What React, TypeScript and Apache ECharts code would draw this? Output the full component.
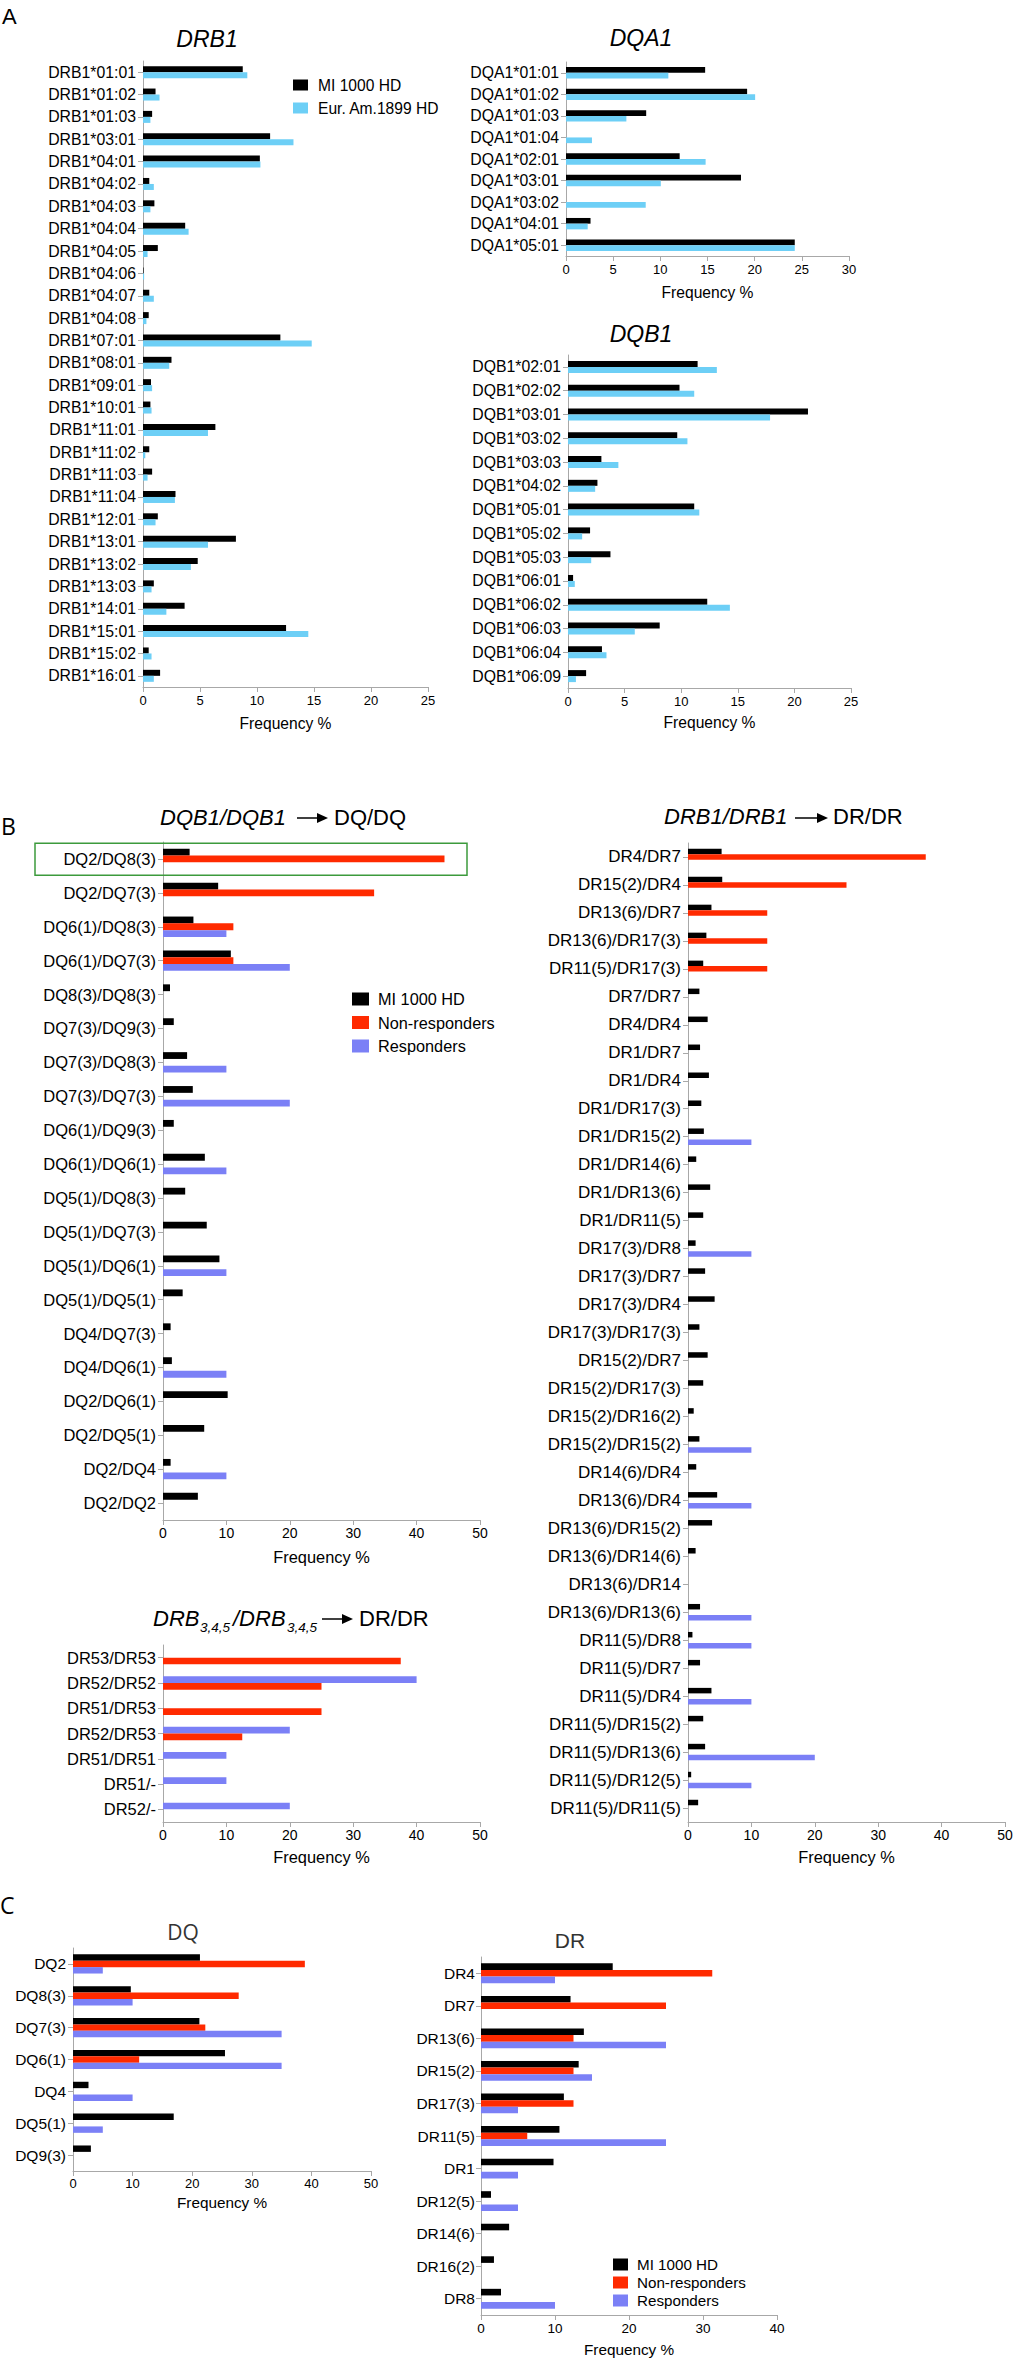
import React, { useEffect, useRef } from "react";
import * as echarts from "echarts";

const FONT = '"Liberation Sans", Arial, Helvetica, sans-serif';
const FONT2 = '"Open Sans", "Liberation Sans", Arial, sans-serif';

const MI = "MI 1000 HD";
const EUR = "Eur. Am.1899 HD";
const NONR = "Non-responders";
const RESP = "Responders";

const C_MI = "#000000";
const C_EUR = "#6dcff6";
const C_NONR = "#ff2a00";
const C_RESP = "#7b80f6";
const C_AXIS = "#a8a8a8";
const C_BOX = "#3c9a3c";

// ---------------- Panel A ----------------
const drb1Alleles = [
  "DRB1*01:01", "DRB1*01:02", "DRB1*01:03", "DRB1*03:01", "DRB1*04:01", "DRB1*04:02", "DRB1*04:03",
  "DRB1*04:04", "DRB1*04:05", "DRB1*04:06", "DRB1*04:07", "DRB1*04:08", "DRB1*07:01", "DRB1*08:01",
  "DRB1*09:01", "DRB1*10:01", "DRB1*11:01", "DRB1*11:02", "DRB1*11:03", "DRB1*11:04", "DRB1*12:01",
  "DRB1*13:01", "DRB1*13:02", "DRB1*13:03", "DRB1*14:01", "DRB1*15:01", "DRB1*15:02", "DRB1*16:01",
];
const drb1MI = [8.75, 1.1, 0.8, 11.15, 10.25, 0.55, 1.0, 3.7, 1.3, 0.05, 0.55, 0.5, 12.05, 2.5, 0.7, 0.65, 6.35, 0.55, 0.8, 2.85, 1.3, 8.15, 4.8, 0.95, 3.65, 12.55, 0.5, 1.5];
const drb1Eur = [9.15, 1.45, 0.65, 13.2, 10.3, 0.95, 0.65, 4.0, 0.4, 0.1, 0.95, 0.3, 14.8, 2.3, 0.8, 0.75, 5.7, 0.2, 0.4, 2.8, 1.1, 5.7, 4.2, 0.75, 2.05, 14.5, 0.75, 0.95];

const dqa1Alleles = ["DQA1*01:01", "DQA1*01:02", "DQA1*01:03", "DQA1*01:04", "DQA1*02:01", "DQA1*03:01", "DQA1*03:02", "DQA1*04:01", "DQA1*05:01"];
const dqa1MI = [14.75, 19.2, 8.5, 0, 12.05, 18.55, 0, 2.6, 24.25];
const dqa1Eur = [10.85, 20.05, 6.4, 2.75, 14.8, 10.05, 8.45, 2.3, 24.25];

const dqb1Alleles = [
  "DQB1*02:01", "DQB1*02:02", "DQB1*03:01", "DQB1*03:02", "DQB1*03:03", "DQB1*04:02", "DQB1*05:01",
  "DQB1*05:02", "DQB1*05:03", "DQB1*06:01", "DQB1*06:02", "DQB1*06:03", "DQB1*06:04", "DQB1*06:09",
];
const dqb1MI = [11.45, 9.85, 21.2, 9.65, 2.95, 2.6, 11.15, 1.95, 3.75, 0.45, 12.3, 8.1, 3.0, 1.6];
const dqb1Eur = [13.15, 11.15, 17.85, 10.55, 4.45, 2.4, 11.6, 1.25, 2.05, 0.6, 14.3, 5.9, 3.4, 0.7];

// ---------------- Panel B ----------------
const dqPairs = [
  "DQ2/DQ8(3)", "DQ2/DQ7(3)", "DQ6(1)/DQ8(3)", "DQ6(1)/DQ7(3)", "DQ8(3)/DQ8(3)", "DQ7(3)/DQ9(3)",
  "DQ7(3)/DQ8(3)", "DQ7(3)/DQ7(3)", "DQ6(1)/DQ9(3)", "DQ6(1)/DQ6(1)", "DQ5(1)/DQ8(3)", "DQ5(1)/DQ7(3)",
  "DQ5(1)/DQ6(1)", "DQ5(1)/DQ5(1)", "DQ4/DQ7(3)", "DQ4/DQ6(1)", "DQ2/DQ6(1)", "DQ2/DQ5(1)", "DQ2/DQ4", "DQ2/DQ2",
];
const dqPairsMI = [4.2, 8.7, 4.8, 10.7, 1.1, 1.7, 3.8, 4.7, 1.7, 6.6, 3.5, 6.9, 8.9, 3.1, 1.2, 1.4, 10.2, 6.5, 1.2, 5.5];
const dqPairsNonResp = [44.4, 33.3, 11.1, 11.1, 0, 0, 0, 0, 0, 0, 0, 0, 0, 0, 0, 0, 0, 0, 0, 0];
const dqPairsResp = [0, 0, 10, 20, 0, 0, 10, 20, 0, 10, 0, 0, 10, 0, 0, 10, 0, 0, 10, 0];

const drb345Pairs = ["DR53/DR53", "DR52/DR52", "DR51/DR53", "DR52/DR53", "DR51/DR51", "DR51/-", "DR52/-"];
const drb345Resp = [0, 40, 0, 20, 10, 10, 20];
const drb345NonResp = [37.5, 25, 25, 12.5, 0, 0, 0];

const drPairs = [
  "DR4/DR7", "DR15(2)/DR4", "DR13(6)/DR7", "DR13(6)/DR17(3)", "DR11(5)/DR17(3)", "DR7/DR7", "DR4/DR4",
  "DR1/DR7", "DR1/DR4", "DR1/DR17(3)", "DR1/DR15(2)", "DR1/DR14(6)", "DR1/DR13(6)", "DR1/DR11(5)",
  "DR17(3)/DR8", "DR17(3)/DR7", "DR17(3)/DR4", "DR17(3)/DR17(3)", "DR15(2)/DR7", "DR15(2)/DR17(3)",
  "DR15(2)/DR16(2)", "DR15(2)/DR15(2)", "DR14(6)/DR4", "DR13(6)/DR4", "DR13(6)/DR15(2)", "DR13(6)/DR14(6)",
  "DR13(6)/DR14", "DR13(6)/DR13(6)", "DR11(5)/DR8", "DR11(5)/DR7", "DR11(5)/DR4", "DR11(5)/DR15(2)",
  "DR11(5)/DR13(6)", "DR11(5)/DR12(5)", "DR11(5)/DR11(5)",
];
const drPairsMI = [5.3, 5.4, 3.7, 2.9, 2.4, 1.8, 3.1, 1.9, 3.3, 2.1, 2.5, 1.3, 3.5, 2.4, 1.2, 2.7, 4.2, 1.8, 3.1, 2.4, 0.9, 1.8, 1.3, 4.6, 3.8, 1.2, 0, 1.9, 0.7, 1.9, 3.7, 2.4, 2.7, 0.5, 1.6];
const drPairsNonResp = [37.5, 25, 12.5, 12.5, 12.5, 0, 0, 0, 0, 0, 0, 0, 0, 0, 0, 0, 0, 0, 0, 0, 0, 0, 0, 0, 0, 0, 0, 0, 0, 0, 0, 0, 0, 0, 0];
const drPairsResp = [0, 0, 0, 0, 0, 0, 0, 0, 0, 0, 10, 0, 0, 0, 10, 0, 0, 0, 0, 0, 0, 10, 0, 10, 0, 0, 0, 10, 10, 0, 10, 0, 20, 10, 0];

// ---------------- Panel C ----------------
const dqGroups = ["DQ2", "DQ8(3)", "DQ7(3)", "DQ6(1)", "DQ4", "DQ5(1)", "DQ9(3)"];
const dqMI = [21.3, 9.7, 21.2, 25.5, 2.6, 16.9, 3.0];
const dqNonResp = [38.9, 27.8, 22.2, 11.1, 0, 0, 0];
const dqResp = [5, 10, 35, 35, 10, 5, 0];

const drGroups = ["DR4", "DR7", "DR13(6)", "DR15(2)", "DR17(3)", "DR11(5)", "DR1", "DR12(5)", "DR14(6)", "DR16(2)", "DR8"];
const drMI = [17.8, 12.1, 13.9, 13.2, 11.2, 10.6, 9.8, 1.35, 3.8, 1.75, 2.7];
const drNonResp = [31.25, 25, 12.5, 12.5, 12.5, 6.25, 0, 0, 0, 0, 0];
const drResp = [10, 0, 25, 15, 5, 25, 5, 5, 0, 0, 10];

// ---------------- layout ----------------
type Panel = {
  left: number; top: number; width: number; height: number;
  cats: string[]; max: number; interval: number;
  catSize: number; catMargin: number; tickSize: number; tickMargin: number;
  nameSize: number; nameGap: number; bar: number;
  series: { name: string; data: number[]; color: string }[];
};

const panels: Panel[] = [
  { left: 143, top: 61, width: 285, height: 626, cats: drb1Alleles, max: 25, interval: 5, catSize: 15.8, catMargin: 7, tickSize: 13, tickMargin: 7, nameSize: 15.6, nameGap: 28, bar: 6,
    series: [{ name: MI, data: drb1MI, color: C_MI }, { name: EUR, data: drb1Eur, color: C_EUR }] },
  { left: 566, top: 62, width: 283, height: 194, cats: dqa1Alleles, max: 30, interval: 5, catSize: 15.8, catMargin: 7, tickSize: 13, tickMargin: 7, nameSize: 15.6, nameGap: 28, bar: 5.7,
    series: [{ name: MI, data: dqa1MI, color: C_MI }, { name: EUR, data: dqa1Eur, color: C_EUR }] },
  { left: 568, top: 355, width: 283, height: 333, cats: dqb1Alleles, max: 25, interval: 5, catSize: 15.8, catMargin: 7, tickSize: 13, tickMargin: 7, nameSize: 15.6, nameGap: 26, bar: 6,
    series: [{ name: MI, data: dqb1MI, color: C_MI }, { name: EUR, data: dqb1Eur, color: C_EUR }] },
  { left: 163, top: 842, width: 317, height: 678, cats: dqPairs, max: 50, interval: 10, catSize: 16.5, catMargin: 7, tickSize: 14, tickMargin: 6, nameSize: 16.4, nameGap: 29, bar: 6.8,
    series: [{ name: MI, data: dqPairsMI, color: C_MI }, { name: NONR, data: dqPairsNonResp, color: C_NONR }, { name: RESP, data: dqPairsResp, color: C_RESP }] },
  { left: 163, top: 1645, width: 317, height: 177, cats: drb345Pairs, max: 50, interval: 10, catSize: 16.5, catMargin: 7, tickSize: 14, tickMargin: 6, nameSize: 16.4, nameGap: 27, bar: 6.7,
    series: [{ name: RESP, data: drb345Resp, color: C_RESP }, { name: NONR, data: drb345NonResp, color: C_NONR }] },
  { left: 688, top: 843, width: 317, height: 979, cats: drPairs, max: 50, interval: 10, catSize: 17, catMargin: 7, tickSize: 14, tickMargin: 6, nameSize: 16.4, nameGap: 27, bar: 5.5,
    series: [{ name: MI, data: drPairsMI, color: C_MI }, { name: NONR, data: drPairsNonResp, color: C_NONR }, { name: RESP, data: drPairsResp, color: C_RESP }] },
  { left: 73, top: 1948, width: 298, height: 223, cats: dqGroups, max: 50, interval: 10, catSize: 15.5, catMargin: 7, tickSize: 13, tickMargin: 5.5, nameSize: 15.3, nameGap: 24, bar: 6.4,
    series: [{ name: MI, data: dqMI, color: C_MI }, { name: NONR, data: dqNonResp, color: C_NONR }, { name: RESP, data: dqResp, color: C_RESP }] },
  { left: 481, top: 1957, width: 296, height: 358, cats: drGroups, max: 40, interval: 10, catSize: 15.5, catMargin: 6, tickSize: 13.5, tickMargin: 6, nameSize: 15.3, nameGap: 27, bar: 6.6,
    series: [{ name: MI, data: drMI, color: C_MI }, { name: NONR, data: drNonResp, color: C_NONR }, { name: RESP, data: drResp, color: C_RESP }] },
];

function text(t: string, x: number, y: number, font: string, align = "left", fill = "#000") {
  return {
    type: "text", x, y, silent: true, z: 100,
    style: { text: t, font, fill, textAlign: align, align, textVerticalAlign: "middle", verticalAlign: "middle" },
  };
}

function arrow(x1: number, x2: number, y: number) {
  return [
    { type: "line", silent: true, z: 100, shape: { x1, y1: y, x2: x2 - 10, y2: y }, style: { stroke: "#000", lineWidth: 1.5 } },
    { type: "polygon", silent: true, z: 100, shape: { points: [[x2 - 11, y - 5], [x2, y], [x2 - 11, y + 5]] }, style: { fill: "#000" } },
  ];
}

function buildOption() {
  const grid: any[] = [];
  const xAxis: any[] = [];
  const yAxis: any[] = [];
  const series: any[] = [];
  panels.forEach((p, i) => {
    grid.push({ left: p.left, top: p.top, width: p.width, height: p.height, containLabel: false, outerBoundsMode: "none" });
    xAxis.push({
      type: "value", gridIndex: i, min: 0, max: p.max, interval: p.interval,
      axisLine: { show: true, lineStyle: { color: C_AXIS, width: 1 } },
      axisTick: { show: true, length: 5, lineStyle: { color: C_AXIS } },
      splitLine: { show: false },
      axisLabel: { fontSize: p.tickSize, color: "#000", fontFamily: FONT, margin: p.tickMargin },
      name: "Frequency %", nameLocation: "middle", nameGap: p.nameGap,
      nameTextStyle: { fontSize: p.nameSize, color: "#000", fontFamily: FONT },
    });
    yAxis.push({
      type: "category", gridIndex: i, data: p.cats, inverse: true,
      axisLine: { show: true, lineStyle: { color: C_AXIS, width: 1 } },
      axisTick: { show: true, alignWithLabel: true, length: 5, lineStyle: { color: C_AXIS } },
      splitLine: { show: false },
      axisLabel: { interval: 0, hideOverlap: false, fontSize: p.catSize, color: "#000", fontFamily: FONT, margin: p.catMargin },
    });
    p.series.forEach((s) => {
      series.push({
        type: "bar", name: s.name, xAxisIndex: i, yAxisIndex: i, data: s.data,
        barWidth: p.bar, barGap: "0%", itemStyle: { color: s.color }, silent: true,
      });
    });
  });

  const legendBase = { orient: "vertical", icon: "rect", selectedMode: false, padding: 0 };
  const legend = [
    { ...legendBase, data: [MI, EUR], left: 293, top: 77, itemWidth: 15, itemHeight: 11, itemGap: 7,
      textStyle: { fontSize: 15.6, lineHeight: 16, color: "#000", fontFamily: FONT, padding: [0, 0, 0, 5] } },
    { ...legendBase, data: [MI, NONR, RESP], left: 352, top: 991, itemWidth: 17, itemHeight: 13, itemGap: 7.5,
      textStyle: { fontSize: 16.3, lineHeight: 16, color: "#000", fontFamily: FONT, padding: [0, 0, 0, 4] } },
    { ...legendBase, data: [MI, NONR, RESP], left: 613, top: 2257, itemWidth: 15, itemHeight: 12, itemGap: 3,
      textStyle: { fontSize: 15.2, lineHeight: 14, color: "#000", fontFamily: FONT, padding: [0, 0, 0, 4] } },
  ];

  const it22 = `italic 22px ${FONT}`;
  const n22 = `22px ${FONT}`;
  const sub = `italic 13.5px ${FONT}`;
  const graphic: any[] = [
    text("A", 2, 16, `22px ${FONT}`),
    text("B", 1, 826, `23px ${FONT2}`),
    text("C", 0, 1905, `23px ${FONT2}`),
    text("DRB1", 207, 38.5, `italic 23px ${FONT}`, "center"),
    text("DQA1", 641, 38, `italic 23px ${FONT}`, "center"),
    text("DQB1", 641, 333.5, `italic 23px ${FONT}`, "center"),
    // B: DQB1/DQB1 -> DQ/DQ
    text("DQB1/DQB1", 160, 817, it22),
    ...arrow(297, 328, 818),
    text("DQ/DQ", 334, 817, n22),
    // B: DRB1/DRB1 -> DR/DR
    text("DRB1/DRB1", 664, 816, it22),
    ...arrow(795, 828, 818),
    text("DR/DR", 833, 816, n22),
    // B: DRB3,4,5/DRB3,4,5 -> DR/DR
    text("DRB", 153, 1618.5, it22),
    text("3,4,5", 200, 1627, sub),
    text("/DRB", 233, 1618.5, it22),
    text("3,4,5", 287, 1627, sub),
    ...arrow(322, 353, 1619),
    text("DR/DR", 359, 1618.5, n22),
    // C titles
    text("DQ", 183, 1932, `21px ${FONT2}`, "center", "#333"),
    text("DR", 570, 1940, `21px ${FONT}`, "center", "#333"),
    // green highlight box
    { type: "rect", silent: true, z: 100, shape: { x: 35, y: 843.3, width: 432, height: 32 }, style: { fill: "none", stroke: C_BOX, lineWidth: 1.5 } },
  ];

  return { animation: false, backgroundColor: "#ffffff", grid, xAxis, yAxis, series, legend, graphic };
}

export default function App() {
  const ref = useRef<HTMLDivElement>(null);
  useEffect(() => {
    const el = ref.current;
    if (!el) return;
    const chart = echarts.init(el, null, { renderer: "svg" });
    chart.setOption(buildOption() as any);
    return () => chart.dispose();
  }, []);
  return <div ref={ref} style={{ position: "absolute", left: 0, top: 0, width: 1014, height: 2361, background: "#fff" }} />;
}
